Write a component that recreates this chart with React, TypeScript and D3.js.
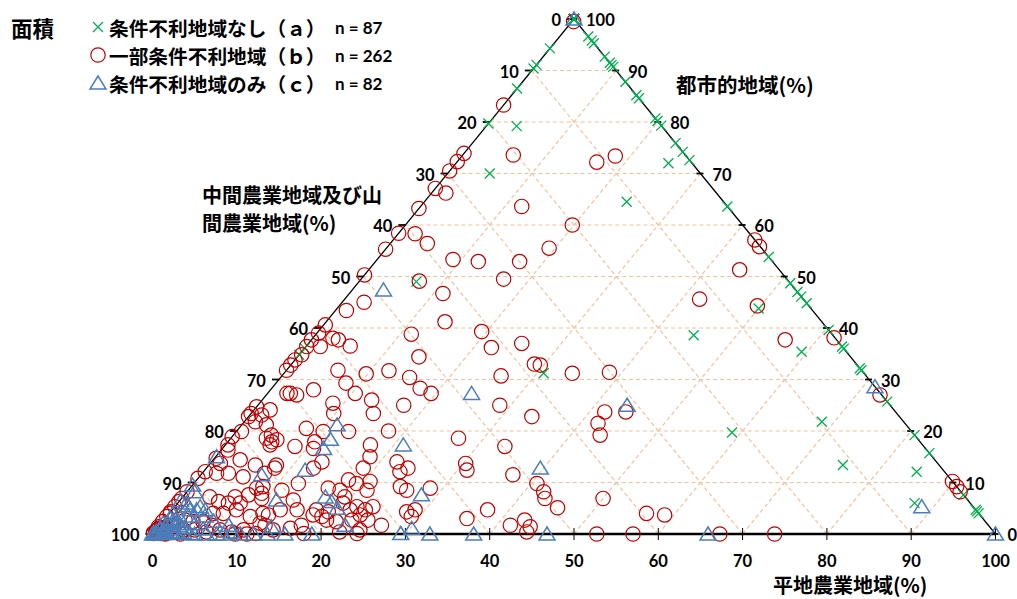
import React from "react";
import * as d3 from "d3";

// Each point is [平地農業地域 %, 都市的地域 %]; 中間・山間 % is the remainder to 100.
type Pt = [number, number];

// 条件不利地域なし（ａ）
const groupA: Pt[] = [
  [3.4, 96.6], [4.7, 95.3], [4.2, 95.8], [7.3, 92.7], [9.3, 90.7], [8.9, 91.1], [8.5, 91.5],
  [12.2, 87.8], [14.8, 85.2], [15.4, 84.6], [19.3, 80.7], [19.8, 80.2], [20.7, 79.3],
  [24.1, 75.9], [25.8, 74.2], [27.4, 72.6], [36.4, 63.6], [46.2, 53.8], [51.3, 48.7],
  [53.0, 47.0], [53.9, 46.1], [55.2, 44.8], [60.4, 39.6], [63.6, 36.4], [64.0, 36.0],
  [67.8, 32.2], [68.2, 31.8], [74.3, 25.7], [80.8, 19.2], [84.3, 15.7], [92.4, 7.6],
  [95.3, 4.7], [95.6, 4.4], [96.0, 4.0],
  [25.2, 72.0], [24.0, 64.5], [50.0, 43.8], [44.9, 38.6], [59.3, 35.4], [30.8, 31.2],
  [68.5, 21.8], [58.9, 19.7], [75.2, 13.4], [84.6, 12.1], [87.4, 6.0], [3.6, 79.2],
  [5.0, 70.0], [6.8, 49.0],
  [0, 94.3], [0, 91.1], [0, 90.4], [0, 86.5], [0, 79.7], [0, 36.1], [0, 34.8],
  [0, 100], [0, 100], [0, 100], [0, 100], [0, 100], [0, 100], [0, 100], [0, 100],
  [0, 100], [0, 100], [0, 100], [0, 100], [0, 100], [0, 100], [0, 100], [0, 100],
  [0, 100], [0, 100], [0, 100], [0, 100], [0, 100], [0, 100], [0, 100], [0, 100],
  [0, 100], [0, 100], [0, 100], [0, 100], [0, 100], [0, 100], [0, 100], [0, 100],
];

// 一部条件不利地域（ｂ）
const groupB: Pt[] = [
  [0.2, 99.5], [0, 83.3], [0, 73.9], [0, 72.3], [0, 70.5], [0, 67.1], [1.7, 66.2], [0, 63.2],
  [6.0, 73.6], [12.0, 63.6], [16.6, 72.2], [18.2, 73.4], [19.8, 60.0], [19.3, 55.5],
  [42.9, 57.1], [44.1, 55.8], [44.0, 51.3], [42.1, 45.6], [49.6, 44.3], [56.2, 37.7],
  [61.8, 38.1], [29.6, 32.8], [34.2, 31.2], [38.5, 31.4], [72.8, 27.0], [89.8, 10.2],
  [90.8, 9.2], [91.7, 8.2], [67.3, 0], [73.8, 0],
  [0, 58.4], [2.0, 58.3], [4.4, 56.4], [0, 55.3], [9.0, 53.3], [12.2, 52.9], [17.1, 52.9],
  [0, 50.3], [7.1, 49.1], [16.9, 49.5], [11.1, 46.7], [2.6, 45.0], [1.3, 43.4], [14.1, 41.2],
  [19.4, 39.3], [11.3, 38.8], [2.4, 38.0], [3.2, 37.7], [5.2, 36.5], [22.1, 36.2], [25.3, 37.0],
  [14.4, 34.4], [6.1, 31.8], [9.8, 31.1], [12.2, 31.7], [15.3, 30.4], [28.8, 33.0], [26.0, 30.7],
  [8.3, 29.3], [17.6, 28.3], [19.4, 27.3], [10.4, 27.3], [13.0, 26.0], [8.7, 25.4], [9.8, 23.4],
  [17.3, 25.0], [28.7, 25.0],
  [0.2, 40.6], [0.2, 39.0], [0, 37.7], [1.7, 36.4], [0.1, 36.4], [0.3, 34.8], [0, 33.8],
  [0, 32.8], [0, 31.8], [2.3, 27.3], [2.7, 27.3], [3.6, 27.0], [5.1, 28.0],
  [0, 24.7], [1.9, 24.1], [1.4, 23.1], [0, 22.8], [1.3, 21.8], [0, 23.4], [2.9, 21.2],
  [8.0, 20.5], [10.3, 19.9], [4.5, 19.2], [0, 18.9], [0.6, 19.9],
  [14.5, 23.4], [13.3, 19.9], [18.0, 20.0], [4.2, 18.6], [5.2, 17.9], [5.6, 18.3], [5.3, 17.3],
  [8.4, 17.0], [10.3, 17.9], [10.8, 16.6], [17.2, 17.3], [18.3, 15.0], [27.0, 18.6],
  [8.0, 13.4], [8.1, 12.8], [13.1, 14.0], [12.7, 12.8], [18.6, 12.8], [22.0, 14.0],
  [23.3, 12.1], [23.9, 12.8], [12.4, 9.8], [11.1, 8.5], [8.5, 9.2], [9.0, 7.9], [16.4, 8.9],
  [18.0, 8.5], [18.0, 10.5], [19.3, 9.8], [20.7, 10.2], [21.2, 8.5], [19.2, 7.2], [24.8, 9.2],
  [25.9, 8.5], [28.5, 8.9], [13.4, 6.6], [14.8, 4.7], [12.8, 4.7], [11.9, 3.7], [17.1, 4.7],
  [17.2, 3.7], [18.4, 3.4], [19.3, 2.7], [18.7, 4.3], [19.6, 6.0], [21.1, 4.7], [21.6, 5.3],
  [22.8, 3.7], [22.9, 4.7], [23.5, 5.3], [20.6, 2.4], [22.3, 2.7], [24.2, 2.7], [26.3, 1.7],
  [28.0, 4.3], [28.8, 4.7], [29.0, 3.4], [16.8, 1.7], [15.8, 1.1], [17.9, 0.1], [24.2, 0.8],
  [24.2, 0.1], [22.0, 0.4], [12.5, 1.7], [13.9, 0.8],
  [33.6, 22.8], [41.8, 23.7], [42.1, 21.5], [43.5, 19.2], [44.3, 23.7], [33.3, 17.0],
  [30.3, 13.7], [31.1, 12.4], [37.0, 11.5], [40.7, 9.8], [42.3, 8.2], [43.1, 6.9], [45.5, 5.1],
  [50.0, 6.9], [35.8, 3.0], [37.4, 4.7], [41.6, 1.7], [42.8, 2.7], [44.1, 1.4], [44.2, 0.4],
  [52.7, 0], [57.0, 0], [56.6, 4.0], [58.9, 3.7],
  [0.3, 17.3], [0.8, 16.3], [0.2, 14.7], [1.2, 13.7], [3.2, 14.4], [0.2, 12.1], [1.7, 11.8],
  [3.1, 11.8], [5.2, 11.1], [5.5, 13.4],
  [7.4, 11.8], [7.9, 8.9], [7.6, 7.6], [9.5, 6.9], [6.2, 7.2], [7.4, 6.0], [6.0, 6.0],
  [4.7, 6.3], [3.2, 7.2], [5.2, 4.0], [6.4, 4.0], [7.6, 4.7], [9.9, 3.4], [11.1, 4.0], [11.7, 2.1],
  [0, 8.2], [0, 6.9], [0, 6.3], [0, 5.3], [0, 4.3], [0, 3.4], [0, 2.4], [0, 1.4],
  [0.1, 4.0], [2.5, 2.7], [3.6, 2.4], [4.8, 2.4], [6.2, 1.7], [1.8, 1.4], [1.1, 0.8], [3.3, 0.8],
  [4.6, 0.8], [6.2, 0.4], [7.6, 0.8], [9.2, 0.4], [10.4, 0.8], [12.2, 0.1], [1.5, 0], [3.3, 0],
  [9.8, 0], [11.2, 0], [0, 10.8],
  [0.3, 0.3], [0.5, 0.5], [0.8, 0.3], [0.2, 0.8], [1.0, 1.0], [0.6, 0.2], [0.4, 0.6],
  [1.2, 0.4], [0.1, 0.1], [0.9, 0.6], [0.3, 1.0], [1.4, 0.2], [0.7, 0.9], [0.2, 0.4],
  [1.0, 0.2], [0.5, 1.2], [0.8, 0.8], [1.3, 0.7], [0.1, 0.6], [0.6, 0.4], [1.1, 0.3],
  [0.4, 0.2], [0.9, 0.1], [0.2, 1.1], [1.5, 0.5], [0.7, 0.6], [0.3, 0.7], [1.2, 0.9], [0.0, 0.2],
];

// 条件不利地域のみ（ｃ）
const groupC: Pt[] = [
  [11.3, 21.2], [11.9, 18.4], [12.0, 16.6], [21.1, 17.3], [11.9, 12.4], [7.2, 11.5], [28.1, 7.6],
  [11.4, 6.6], [16.9, 7.2], [18.1, 6.3], [19.4, 5.0], [22.0, 1.7], [13.4, 1.4], [13.6, 0],
  [15.7, 0], [18.9, 0], [29.4, 0.1], [30.2, 1.1], [32.9, 0], [3.7, 47.4], [24.2, 27.3],
  [43.8, 25.0], [39.6, 12.8], [38.1, 0], [46.8, 0], [71.4, 28.6], [88.6, 5.3], [65.9, 0],
  [100, 0], [0, 100],
  [0.1, 15.0], [0, 9.5], [0.9, 8.2], [3.0, 5.3], [3.9, 4.7], [2.9, 4.7], [2.1, 4.7], [1.2, 3.7],
  [1.1, 2.7], [0.2, 2.1], [0.5, 0.8], [0, 0], [0.3, 0], [2.8, 0.1], [4.4, 0.1], [5.0, 0],
  [6.4, 0], [7.6, 0], [8.2, 1.7], [9.2, 0.4], [8.4, 0], [10.4, 0], [12.0, 0],
  [0.5, 0.2], [1.0, 0.5], [1.5, 0.2], [0.8, 1.5], [1.8, 1.0], [2.5, 0.5], [0.3, 1.2],
  [1.2, 0.1], [2.0, 2.0], [3.2, 1.2], [0.6, 3.0], [1.5, 5.5], [2.5, 3.5], [4.0, 2.0],
  [3.5, 0.3], [0.2, 0.5], [0.9, 0.9], [1.7, 2.6], [2.4, 1.6], [0.4, 4.0], [5.5, 1.0],
  [6.0, 2.5], [4.5, 3.5], [0.1, 6.5], [1.0, 6.0], [0.0, 0.3], [1.3, 0.3], [2.2, 0.2], [0.7, 2.2],
];

const ticks = [0, 10, 20, 30, 40, 50, 60, 70, 80, 90, 100];
const gridSteps = [10, 20, 30, 40, 50, 60, 70, 80, 90];

const legendItems = [
  { label: "条件不利地域なし（ａ）", n: "n = 87", kind: "x" },
  { label: "一部条件不利地域（ｂ）", n: "n = 262", kind: "o" },
  { label: "条件不利地域のみ（ｃ）", n: "n = 82", kind: "t" },
];

const xScale = d3.scaleLinear().domain([0, 100]).range([152.5, 995.5]);
const yScale = d3.scaleLinear().domain([0, 100]).range([534, 19]);
const proj = (flat: number, urban: number): [number, number] => [
  xScale(flat + urban / 2),
  yScale(urban),
];

const RED = "#C00000";
const BLUE = "#4A7EBB";
const GREEN = "#00B050";
const GRID = "#F6C09C";
const NUM_FONT = "Lato, 'Liberation Sans', sans-serif";
const JP_FONT = "'Noto Sans CJK JP', sans-serif";

const triPath = "M0,-7L8,6L-8,6Z";

function Marker({ kind, x, y }: { kind: string; x: number; y: number }) {
  if (kind === "x")
    return (
      <path
        d={`M${x - 5},${y - 5}L${x + 5},${y + 5}M${x - 5},${y + 5}L${x + 5},${y - 5}`}
        stroke={GREEN}
        strokeWidth={1.3}
        fill="none"
      />
    );
  if (kind === "o")
    return <circle cx={x} cy={y} r={7.2} stroke={RED} strokeWidth={1.2} fill="none" />;
  return (
    <path d={triPath} transform={`translate(${x},${y})`} stroke={BLUE} strokeWidth={1.5} fill="none" strokeLinejoin="miter" />
  );
}

export default function App() {
  const line = d3.line();
  const [ax, ay] = proj(0, 100);
  const [lx, ly] = proj(0, 0);
  const [rx, ry] = proj(100, 0);

  const grid: string[] = [];
  gridSteps.forEach((k) => {
    grid.push(line([proj(0, k), proj(100 - k, k)])!);
    grid.push(line([proj(k, 0), proj(k, 100 - k)])!);
    grid.push(line([proj(100 - k, 0), proj(0, 100 - k)])!);
  });

  return (
    <svg
      width={1017}
      height={599}
      style={{ position: "absolute", left: 0, top: 0, background: "#fff" }}
    >
      <rect width={1017} height={599} fill="#fff" />
      {grid.map((d, i) => (
        <path key={i} d={d} stroke={GRID} strokeWidth={1.2} strokeDasharray="4 3" fill="none" />
      ))}

      {/* triangle frame */}
      <path d={line([[lx, ly], [ax, ay], [rx, ry]])!} stroke="#000" strokeWidth={1.3} fill="none" />
      <line x1={lx} y1={ly} x2={rx} y2={ry} stroke="#000" strokeWidth={2.5} />

      {/* ticks and tick labels */}
      {ticks.map((k) => {
        const bx = xScale(k);
        const [lpx, lpy] = proj(0, 100 - k);
        const [rpx, rpy] = proj(100 - k, k);
        return (
          <g key={k}>
            <line x1={bx} y1={528} x2={bx} y2={540} stroke="#000" strokeWidth={1} />
            <line x1={lpx - 7} y1={lpy} x2={lpx} y2={lpy} stroke="#000" strokeWidth={1.8} />
            <line x1={rpx - 4} y1={rpy} x2={rpx + 3} y2={rpy} stroke="#000" strokeWidth={1.8} />
            <text x={bx} y={561} textAnchor="middle" dominantBaseline="central" fontFamily={NUM_FONT} fontWeight={700} fontSize={16.5} fill="#000">
              {k}
            </text>
            <text x={lpx - 13} y={lpy + 1} textAnchor="end" dominantBaseline="central" fontFamily={NUM_FONT} fontWeight={700} fontSize={16.5} fill="#000">
              {k}
            </text>
            <text x={rpx + 12} y={rpy + 1} textAnchor="start" dominantBaseline="central" fontFamily={NUM_FONT} fontWeight={700} fontSize={16.5} fill="#000">
              {k}
            </text>
          </g>
        );
      })}

      {/* data */}
      {groupA.map(([a, u], i) => {
        const [x, y] = proj(a, u);
        return <Marker key={"a" + i} kind="x" x={x} y={y} />;
      })}
      {groupB.map(([a, u], i) => {
        const [x, y] = proj(a, u);
        return <Marker key={"b" + i} kind="o" x={x} y={y} />;
      })}
      {groupC.map(([a, u], i) => {
        const [x, y] = proj(a, u);
        return <Marker key={"c" + i} kind="t" x={x} y={y} />;
      })}

      {/* axis titles */}
      <text x={676} y={84} dominantBaseline="central" fontFamily={JP_FONT} fontWeight={700} fontSize={20.5} fill="#000">
        都市的地域(%)
      </text>
      <text x={773} y={584} dominantBaseline="central" fontFamily={JP_FONT} fontWeight={700} fontSize={20} fill="#000">
        平地農業地域(%)
      </text>
      <text x={202} y={194} dominantBaseline="central" fontFamily={JP_FONT} fontWeight={700} fontSize={20} fill="#000">
        中間農業地域及び山
      </text>
      <text x={202} y={222} dominantBaseline="central" fontFamily={JP_FONT} fontWeight={700} fontSize={20} fill="#000">
        間農業地域(%)
      </text>

      {/* legend */}
      <text x={11} y={27} dominantBaseline="central" fontFamily={JP_FONT} fontWeight={700} fontSize={21.5} fill="#000">
        面積
      </text>
      {legendItems.map((it, i) => {
        const y = 27 + i * 28;
        return (
          <g key={it.kind}>
            <Marker kind={it.kind} x={98} y={y} />
            <text x={109} y={y} dominantBaseline="central" fontFamily={JP_FONT} fontWeight={700} fontSize={19.7} fill="#000">
              {it.label}
            </text>
            <text x={335} y={y} dominantBaseline="central" fontFamily={NUM_FONT} fontWeight={700} fontSize={17} fill="#000">
              {it.n}
            </text>
          </g>
        );
      })}
    </svg>
  );
}
